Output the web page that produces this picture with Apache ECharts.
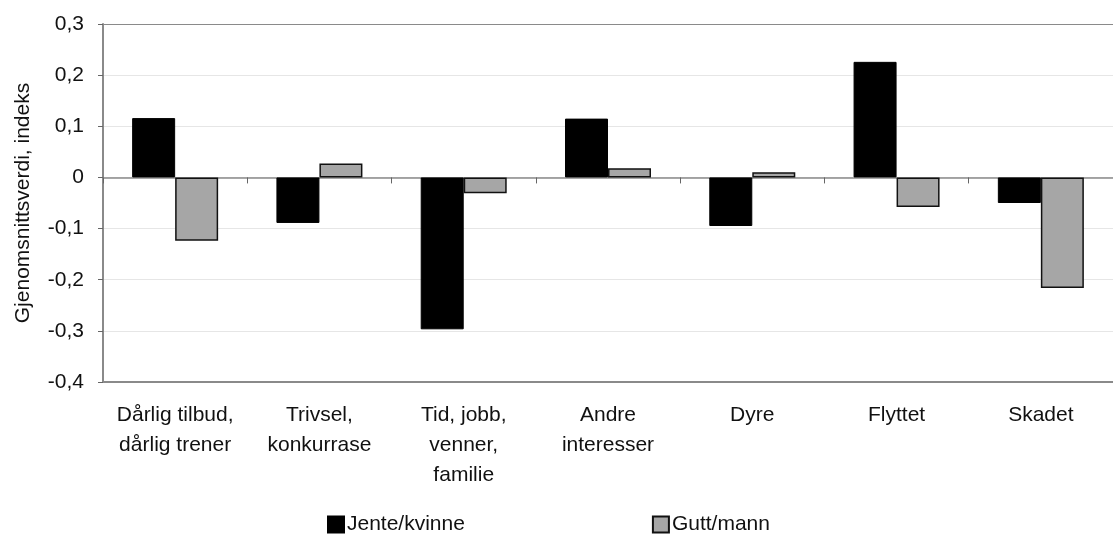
<!DOCTYPE html>
<html>
<head>
<meta charset="utf-8">
<script src="https://cdn.jsdelivr.net/npm/echarts@6/dist/echarts.min.js"></script>
<style>
  html, body { margin: 0; padding: 0; background: #fff; }
  #chart { width: 1113px; height: 535px; }
</style>
</head>
<body>
<div id="chart"></div>
<script>
  // kategorier og verdier lest av figuren
  var categories = ['Dårlig tilbud,\ndårlig trener', 'Trivsel,\nkonkurrase', 'Tid, jobb,\nvenner,\nfamilie', 'Andre\ninteresser', 'Dyre', 'Flyttet', 'Skadet'];
  var jenteValues = [0.116, -0.089, -0.297, 0.115, -0.095, 0.226, -0.05];
  var guttValues = [-0.124, 0.027, -0.031, 0.018, 0.01, -0.058, -0.216];
  var yTicks = [-0.4, -0.3, -0.2, -0.1, 0, 0.1, 0.2, 0.3];

  var chart = echarts.init(document.getElementById('chart'));
  var font = 'Liberation Sans, Arial, sans-serif';

  chart.setOption({
    backgroundColor: '#fff',
    animation: false,
    textStyle: { fontFamily: font },
    grid: {
      left: 103,
      top: 24,
      width: 1015,
      height: 358
    },
    legend: {
      left: 322,
      top: 509,
      itemWidth: 16,
      itemHeight: 16,
      itemGap: 187,
      icon: 'rect',
      textStyle: { fontSize: 21, color: '#111', fontFamily: font, padding: [0, 0, 0, -2] },
      data: ['Jente/kvinne', 'Gutt/mann']
    },
    xAxis: [{
      type: 'category',
      position: 'bottom',
      data: categories,
      axisLine: { onZero: false, lineStyle: { color: '#8a8a8a', width: 2 } },
      axisTick: { show: false },
      axisLabel: { fontSize: 21, color: '#111', lineHeight: 30, margin: 18, interval: 0 }
    }, {
      type: 'category',
      position: 'top',
      data: categories,
      axisLine: { onZero: true, lineStyle: { color: '#8a8a8a', width: 1.5 } },
      axisTick: { show: true, inside: true, length: 6, lineStyle: { color: '#666' } },
      axisLabel: { show: false }
    }],
    yAxis: {
      type: 'value',
      min: yTicks[0],
      max: yTicks[yTicks.length - 1],
      interval: 0.1,
      name: 'Gjenomsnittsverdi, indeks',
      nameLocation: 'middle',
      nameGap: 69,
      nameTextStyle: { fontSize: 21, color: '#111' },
      axisLine: { show: true, lineStyle: { color: '#8a8a8a', width: 2 } },
      axisTick: { show: true, length: 5, lineStyle: { color: '#666' } },
      axisLabel: {
        fontSize: 21, color: '#111', margin: 19,
        formatter: function (v) {
          var r = Math.round(v * 10) / 10;
          return r === 0 ? '0' : r.toFixed(1).replace('.', ',');
        }
      },
      splitLine: {
        show: true,
        lineStyle: { color: ['#8a8a8a', '#e6e6e6', '#e6e6e6', '#e6e6e6', '#e6e6e6', '#e6e6e6', '#e6e6e6', '#8a8a8a'], width: 1 }
      }
    },
    series: [{
      name: 'Jente/kvinne',
      type: 'bar',
      xAxisIndex: 0,
      barWidth: 43,
      barGap: '0%',
      itemStyle: { color: '#000', borderColor: '#000', borderWidth: 1 },
      data: jenteValues
    }, {
      name: 'Gutt/mann',
      type: 'bar',
      xAxisIndex: 0,
      barWidth: 43,
      barGap: '0%',
      itemStyle: { color: '#a6a6a6', borderColor: '#111', borderWidth: 1.5 },
      data: guttValues
    }]
  });
</script>
</body>
</html>
